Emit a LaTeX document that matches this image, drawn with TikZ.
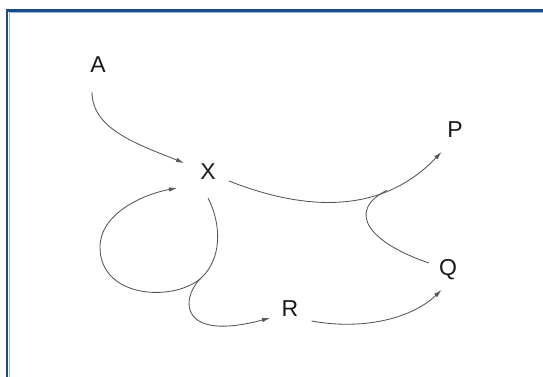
\documentclass[tikz,border=0pt]{standalone}
\usepackage{fontspec}
\setmainfont{Liberation Sans}
\usetikzlibrary{arrows.meta,calc}

\definecolor{frameblue}{RGB}{24,76,130}
\definecolor{framelight}{RGB}{150,185,225}
\definecolor{flowgray}{RGB}{85,85,85}
\definecolor{labelink}{RGB}{25,25,25}

\begin{document}
\begin{tikzpicture}[x=1pt,y=-1pt,
  statelabel/.style={inner sep=0pt,text depth=0pt,font=\fontsize{23}{23}\selectfont,text=labelink},
  flow/.style={draw=flowgray,line width=0.85pt},
  flowarrow/.style={flow,-{Latex[length=8pt,width=4.5pt]}}]
  \useasboundingbox (0,0) rectangle (543,377);

  % frame along the top and left edges
  \draw[frameblue,line width=2.4pt] (7.2,377) -- (7.2,10.4) -- (543,10.4);
  \draw[framelight,line width=0.7pt] (9,377) -- (9,12.2) -- (543,12.2);

  % states
  \node[statelabel] (A) at (98,65)  {A};
  \node[statelabel] (X) at (208,172) {X};
  \node[statelabel] (P) at (455,130) {P};
  \node[statelabel] (Q) at (448,267) {Q};
  \node[statelabel] (R) at (290,309) {R};

  % A -> X
  \draw[flowarrow] ($(A)+(-6,27)$) .. controls (92,130) and (140,145) .. ($(X)+(-24,-9)$);

  % X -> P, with the merge point of the branch from Q
  \draw[flowarrow] ($(X)+(21,9)$) .. controls (290,205) and (375,222) ..
    coordinate[pos=0.74] (K) ($(P)+(-13.5,22)$);

  % Q joins the X -> P flow
  \draw[flow] ($(Q)+(-19,-4)$) .. controls (370,243) and (345,212) .. (K);

  % X -> R, splitting at J
  \coordinate (J) at (200,279);
  \draw[flow] ($(X)+(0,26)$) .. controls (222,225) and (222,260) .. (J);
  \draw[flowarrow] (J) .. controls (180,300) and (180,342) .. ($(R)+(-20,9)$);

  % loop from the split back into X
  \coordinate (L) at (100,247);
  \draw[flowarrow] (J) .. controls (172,302) and (100,298) .. (L)
    .. controls (100,215) and (140,195) .. ($(X)+(-31,16)$);

  % R -> Q
  \draw[flowarrow] ($(R)+(21.6,12)$) .. controls (360,330) and (410,320) .. ($(Q)+(-6.5,23)$);
\end{tikzpicture}
\end{document}
